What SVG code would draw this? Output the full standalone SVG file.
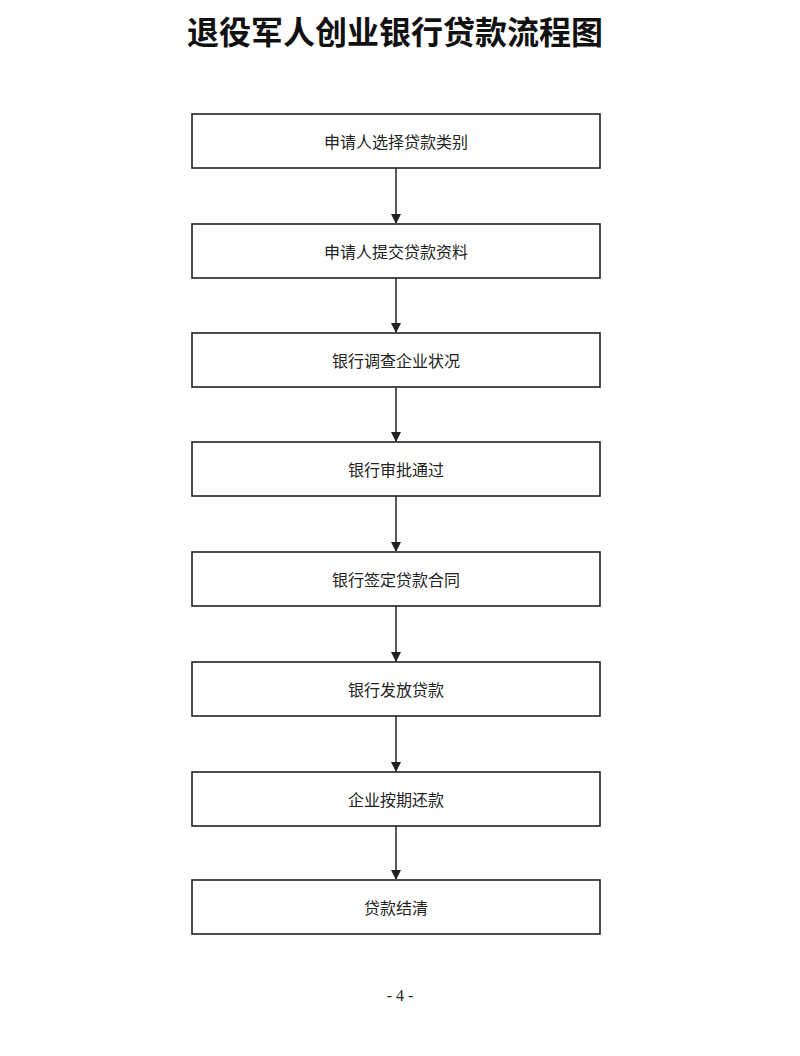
<svg xmlns="http://www.w3.org/2000/svg" width="800" height="1056" viewBox="0 0 800 1056">
<style>
.box{fill:#fff;stroke:#222;stroke-width:1.6}
.t{font-family:"Noto Sans CJK SC",sans-serif;font-size:16px;fill:#222;text-anchor:middle;dominant-baseline:central}
.c{stroke:#222;stroke-width:1.5;fill:none;marker-end:url(#a)}
</style>
<defs><marker id="a" markerWidth="10" markerHeight="10" refX="9" refY="5" orient="auto" markerUnits="userSpaceOnUse"><path d="M0,0 L10,5 L0,10 z" fill="#222"/></marker></defs>
<rect width="800" height="1056" fill="#fff"/>
<text x="395" y="30" style="font-family:'Noto Sans CJK SC',serif;font-size:32px;font-weight:bold;fill:#111;text-anchor:middle;dominant-baseline:central">退役军人创业银行贷款流程图</text>
<g id="n1"><rect class="box" x="192" y="114" width="408" height="54"/><text class="t" x="396" y="141">申请人选择贷款类别</text></g>
<g id="n2"><rect class="box" x="192" y="224" width="408" height="54"/><text class="t" x="396" y="251">申请人提交贷款资料</text></g>
<g id="n3"><rect class="box" x="192" y="333" width="408" height="54"/><text class="t" x="396" y="360">银行调查企业状况</text></g>
<g id="n4"><rect class="box" x="192" y="442" width="408" height="54"/><text class="t" x="396" y="469">银行审批通过</text></g>
<g id="n5"><rect class="box" x="192" y="552" width="408" height="54"/><text class="t" x="396" y="579">银行签定贷款合同</text></g>
<g id="n6"><rect class="box" x="192" y="662" width="408" height="54"/><text class="t" x="396" y="689">银行发放贷款</text></g>
<g id="n7"><rect class="box" x="192" y="772" width="408" height="54"/><text class="t" x="396" y="799">企业按期还款</text></g>
<g id="n8"><rect class="box" x="192" y="880" width="408" height="54"/><text class="t" x="396" y="907">贷款结清</text></g>
<g id="connectors">
<line class="c" x1="396" y1="168" x2="396" y2="223"/>
<line class="c" x1="396" y1="278" x2="396" y2="332"/>
<line class="c" x1="396" y1="387" x2="396" y2="441"/>
<line class="c" x1="396" y1="496" x2="396" y2="551"/>
<line class="c" x1="396" y1="606" x2="396" y2="661"/>
<line class="c" x1="396" y1="716" x2="396" y2="771"/>
<line class="c" x1="396" y1="826" x2="396" y2="879"/>
</g>
<text x="400" y="995" style="font-family:'Liberation Serif',serif;font-size:16px;fill:#222;text-anchor:middle;dominant-baseline:central">- 4 -</text>
</svg>
